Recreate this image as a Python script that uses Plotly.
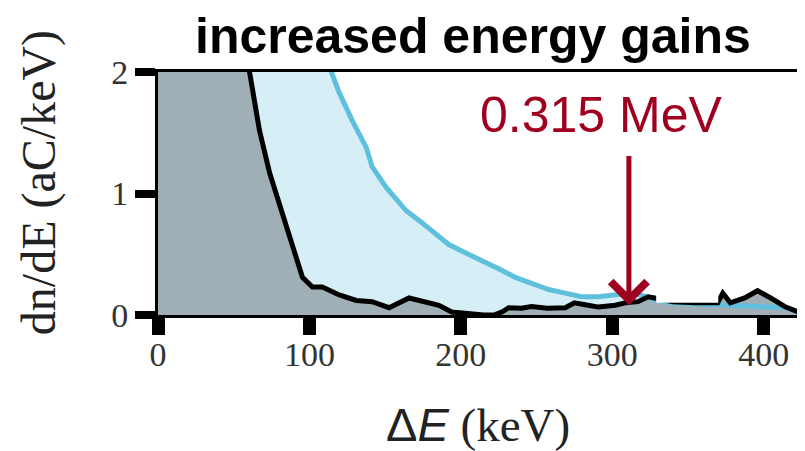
import plotly.graph_objects as go

# Data
black_x = [0, 40, 55, 60.5, 64, 67, 73.7, 80.3, 86.8, 92, 95.4, 102, 108.5, 119.7, 131, 141.4, 152.6,
           165.8, 177, 185.5, 194, 205, 215, 222, 228, 231.6, 240, 246.7, 257, 269, 275, 284, 291,
           302, 308.5, 317, 323.7, 328, 340, 355, 369.7, 373, 378, 387.5, 396, 404.6, 413.8, 422, 424]
black_y = [2.8, 2.7, 2.4, 2.0, 1.75, 1.52, 1.17, 0.9, 0.66, 0.45, 0.31, 0.23, 0.23, 0.165, 0.12, 0.11, 0.06,
           0.14, 0.10, 0.08, 0.025, 0.01, 0.0, 0.0, 0.03, 0.06, 0.055, 0.07, 0.055, 0.06, 0.1, 0.08, 0.065,
           0.08, 0.1, 0.11, 0.15, 0.14, 0.11, 0.1, 0.1, 0.18, 0.1, 0.14, 0.2, 0.14, 0.07, 0.03, 0.02]

blue_x = [0, 60, 100, 114.5, 119.7, 128.3, 137.5, 141.4, 150.7, 163.8, 174.3, 185.5, 192, 205, 213.8,
          225, 236, 246.7, 258, 269, 279.6, 291, 304, 312.5, 323.7, 328, 340, 360, 380, 395, 405, 415, 424]
blue_y = [3.2, 2.9, 2.3, 2.0, 1.83, 1.6, 1.38, 1.22, 1.05, 0.86, 0.76, 0.64, 0.58, 0.5, 0.45,
          0.38, 0.31, 0.26, 0.21, 0.18, 0.15, 0.15, 0.165, 0.18, 0.15, 0.12, 0.1, 0.09, 0.08, 0.08, 0.07, 0.06, 0.02]

x_ticks = [0, 100, 200, 300, 400]
y_ticks = [0, 1, 2]

title_text = "increased energy gains"
annot_text = "0.315 MeV"
annot_x = 311
x_title = "<span style='font-family:Liberation Sans'>Δ<i>E</i></span> (keV)"
y_title = "dn/dE (aC/keV)"

GRAY = "rgb(160,174,182)"
LIGHTBLUE = "rgb(214,238,245)"
BLUE = "rgb(95,192,222)"
RED = "rgb(160,0,32)"

fig = go.Figure()
fig.add_trace(go.Scatter(x=blue_x, y=blue_y, mode="lines", line=dict(width=0, color=LIGHTBLUE),
                         fill="tozeroy", fillcolor=LIGHTBLUE, hoverinfo="skip", showlegend=False))
fig.add_trace(go.Scatter(x=black_x, y=black_y, mode="lines", line=dict(width=0, color=GRAY),
                         fill="tozeroy", fillcolor=GRAY, hoverinfo="skip", showlegend=False))
fig.add_trace(go.Scatter(x=blue_x, y=blue_y, mode="lines", line=dict(width=5, color=BLUE),
                         showlegend=False))
fig.add_trace(go.Scatter(x=black_x, y=black_y, mode="lines", line=dict(width=5, color="black"),
                         showlegend=False))

# white patch artifact present in reference
fig.add_shape(type="rect", xref="x", yref="y", x0=329, x1=370, y0=0.1, y1=0.17,
              fillcolor="white", line=dict(width=0), layer="above")

fig.update_layout(
    width=797, height=443,
    margin=dict(l=150, r=2, t=64, b=136),
    paper_bgcolor="white", plot_bgcolor="white",
    xaxis=dict(range=[0, 424], tickvals=x_ticks, ticks="outside", ticklen=17, tickwidth=13,
               tickcolor="black", showline=True, linecolor="black", linewidth=3, mirror=True,
               showgrid=False, zeroline=False, ticklabelstandoff=-10,
               tickfont=dict(family="Liberation Serif", size=34, color="#333")),
    yaxis=dict(range=[0, 2], tickvals=y_ticks, ticks="outside", ticklen=20, tickwidth=8,
               tickcolor="black", showline=True, linecolor="black", linewidth=3, mirror=True,
               showgrid=False, zeroline=False,
               tickfont=dict(family="Liberation Serif", size=34, color="#333")),
    annotations=[
        dict(text=f"<b>{title_text}</b>", xref="paper", yref="paper", x=0.49, y=1.15,
             xanchor="center", yanchor="middle", showarrow=False, borderpad=0,
             font=dict(family="Liberation Sans", size=50, color="black")),
        dict(text=y_title, xref="paper", yref="paper", x=-0.186, y=0.545, textangle=-90,
             xanchor="center", yanchor="middle", showarrow=False, borderpad=0,
             font=dict(family="Liberation Serif", size=48, color="#222")),
        dict(text=x_title, xref="paper", yref="paper", x=0.499, y=-0.45,
             xanchor="center", yanchor="middle", showarrow=False,
             font=dict(family="Liberation Serif", size=47, color="#222")),
        dict(text=annot_text, xref="x", yref="y", x=292.8, y=1.65,
             xanchor="center", yanchor="middle", showarrow=False,
             font=dict(family="Liberation Sans", size=50, color=RED)),
        dict(text="", xref="x", yref="y", x=annot_x, y=0.08, ax=annot_x, ay=1.32,
             axref="x", ayref="y", showarrow=True, arrowhead=4, arrowsize=1.4,
             arrowwidth=5, arrowcolor=RED),
    ],
)

fig.write_html("out.html")
